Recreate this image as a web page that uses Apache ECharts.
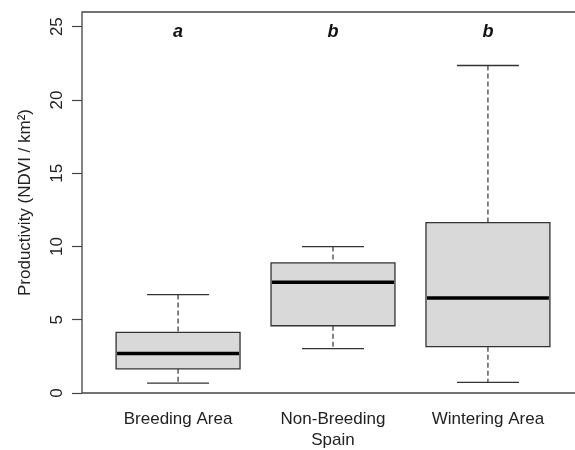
<!DOCTYPE html>
<html><head><meta charset="utf-8">
<script src="https://cdn.jsdelivr.net/npm/echarts@6/dist/echarts.min.js"></script>
<style>html,body{margin:0;padding:0;background:#fff}#c{width:575px;height:450px}</style>
</head><body><div id="c"></div>
<script>
const categories = ['Breeding Area', 'Non-Breeding\nSpain', 'Wintering Area'];
const groupLetters = ['a', 'b', 'b'];
const whiskerLow = [0.67, 3.03, 0.73];
const q1 = [1.65, 4.59, 3.16];
const median = [2.69, 7.56, 6.48];
const q3 = [4.14, 8.88, 11.62];
const whiskerHigh = [6.72, 9.99, 22.35];
const yTicks = [0, 5, 10, 15, 20, 25];
const catPositions = categories.map((c, i) => i + 1);

const FONT = "'Liberation Sans', Arial, sans-serif";
const TXT = '#222';
const X_MIN = 0.38, X_MAX = 3.62;

const data = categories.map((c, i) => [catPositions[i], whiskerLow[i], q1[i], median[i], q3[i], whiskerHigh[i]]);

function renderItem(params, api) {
  const x = api.value(0);
  const lo = api.coord([x, api.value(1)]);
  const b1 = api.coord([x, api.value(2)]);
  const md = api.coord([x, api.value(3)]);
  const b3 = api.coord([x, api.value(4)]);
  const hi = api.coord([x, api.value(5)]);
  const boxW = api.size([0.8, 0])[0];
  const capW = boxW / 2;
  const cx = lo[0];
  const dashStyle = { stroke: '#333', lineWidth: 1.2, lineDash: [5, 3] };
  const solid = { stroke: '#333', lineWidth: 1.3 };
  return {
    type: 'group',
    children: [
      { type: 'line', shape: { x1: cx, y1: hi[1], x2: cx, y2: b3[1] }, style: dashStyle },
      { type: 'line', shape: { x1: cx, y1: b1[1], x2: cx, y2: lo[1] }, style: dashStyle },
      { type: 'line', shape: { x1: cx - capW / 2, y1: hi[1], x2: cx + capW / 2, y2: hi[1] }, style: solid },
      { type: 'line', shape: { x1: cx - capW / 2, y1: lo[1], x2: cx + capW / 2, y2: lo[1] }, style: solid },
      { type: 'rect', shape: { x: cx - boxW / 2, y: b3[1], width: boxW, height: b1[1] - b3[1] },
        style: { fill: '#d9d9d9', stroke: '#333', lineWidth: 1.3 } },
      { type: 'line', shape: { x1: cx - boxW / 2 + 1, y1: md[1], x2: cx + boxW / 2 - 1, y2: md[1] },
        style: { stroke: '#000', lineWidth: 3.5 } }
    ]
  };
}

const chart = echarts.init(document.getElementById('c'), null, { renderer: 'canvas' });
chart.setOption({
  animation: false,
  backgroundColor: '#fff',
  grid: {
    left: 82, right: -9, top: 12, bottom: 57,
    show: true, borderColor: '#444', borderWidth: 1.3,
    containLabel: false, outerBoundsMode: 'none'
  },
  xAxis: [
    {
      type: 'value', min: X_MIN, max: X_MAX, position: 'bottom',
      axisLine: { show: false }, axisTick: { show: false }, splitLine: { show: false },
      axisLabel: {
        customValues: catPositions,
        formatter: v => categories[Math.round(v) - 1],
        fontFamily: FONT, fontSize: 17, color: TXT, margin: 16, lineHeight: 21
      }
    },
    {
      type: 'value', min: X_MIN, max: X_MAX, position: 'top',
      axisLine: { show: false }, axisTick: { show: false }, splitLine: { show: false },
      axisLabel: {
        inside: true,
        customValues: catPositions,
        formatter: v => groupLetters[Math.round(v) - 1],
        fontFamily: FONT, fontSize: 18, fontStyle: 'italic', fontWeight: 'bold', color: '#111', margin: 11
      }
    }
  ],
  yAxis: {
    type: 'value', min: 0, max: 26,
    name: 'Productivity (NDVI / km²)', nameLocation: 'middle', nameRotate: 90, nameGap: 48,
    nameTextStyle: { fontFamily: FONT, fontSize: 17, color: TXT },
    axisLine: { show: false }, splitLine: { show: false },
    axisTick: { show: true, customValues: yTicks, length: 10, lineStyle: { color: '#444', width: 1.2 } },
    axisLabel: { customValues: yTicks, rotate: 90, margin: 16, fontFamily: FONT, fontSize: 17, color: TXT }
  },
  series: [{
    type: 'custom',
    xAxisIndex: 0, yAxisIndex: 0,
    renderItem: renderItem,
    encode: { x: 0, y: [1, 2, 3, 4, 5] },
    data: data,
    clip: false
  }]
});
</script>
</body></html>
